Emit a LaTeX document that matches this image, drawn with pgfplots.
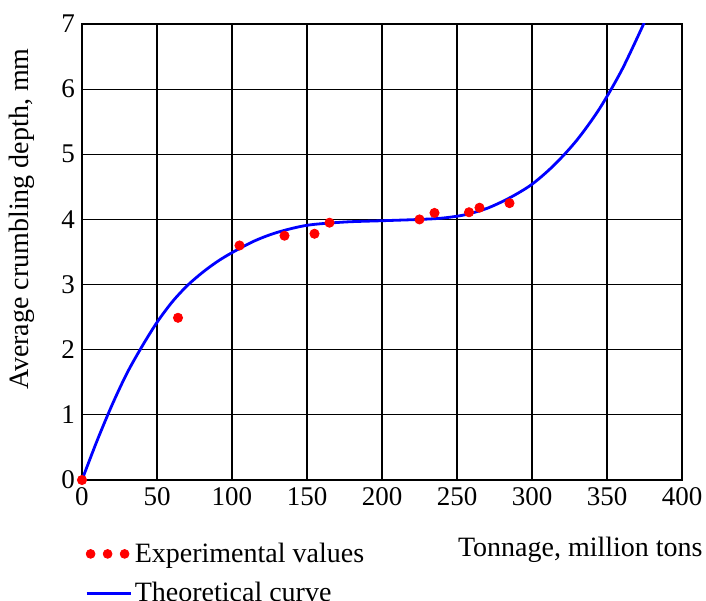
\documentclass[border=0pt]{standalone}
\usepackage{pgfplots}
\pgfplotsset{compat=1.18}
\usepackage{fontspec}
\setmainfont{Liberation Serif}

\begin{document}
\begin{tikzpicture}
\begin{axis}[
  at={(0pt,0pt)}, anchor=south west,
  scale only axis, width=300pt, height=228pt,
  xmin=0, xmax=400, ymin=0, ymax=7,
  xtick={0,50,...,400}, ytick={0,1,...,7},
  grid=major, grid style={black, line width=0.6pt},
  axis line style={black, line width=0.8pt},
  major tick length=0pt,
  font=\fontsize{14}{16}\selectfont,
  tick label style={font=\fontsize{13.5}{15}\selectfont},
  /pgf/number format/assume math mode=true,
  xlabel={Tonnage, million tons},
  xlabel style={at={(axis description cs:1.035,-0.153)}, anchor=east, inner sep=0pt},
  ylabel={Average crumbling depth, mm},
  ylabel style={at={(axis description cs:-0.1,0.572)}, anchor=center},
  legend style={at={(axis description cs:0.005,-0.13)}, anchor=north west,
    draw=none, fill=none, inner sep=0pt, row sep=5.5pt,
    nodes={inner sep=1.5pt, anchor=west, xshift=5pt}},
  legend cell align=left,
]
\addplot[only marks, mark=*, mark size=2.3pt, red,
  legend image code/.code={
    \fill[red] (0pt,0pt) circle (2.2pt);
    \fill[red] (8.5pt,0pt) circle (2.2pt);
    \fill[red] (17pt,0pt) circle (2.2pt);}]
coordinates {
  (0,0) (64,2.49) (105,3.6) (135,3.75) (155,3.78) (165,3.95)
  (225,4.0) (235,4.1) (258,4.11) (265,4.18) (285,4.25)
};
\addlegendentry{Experimental values}
\addplot[blue, line width=1.4pt, smooth,
  legend image code/.code={\draw[blue, line width=1.2pt] (-2pt,0pt) -- (20pt,0pt);}]
coordinates {
  (0,0) (10,0.6) (20,1.15) (30,1.64) (40,2.05) (50,2.42) (60,2.73)
  (70,2.98) (80,3.18) (90,3.35) (100,3.49) (115,3.67) (130,3.80)
  (150,3.91) (175,3.96) (200,3.98) (225,4.00) (240,4.02) (255,4.07)
  (270,4.17) (285,4.33) (300,4.54) (315,4.84) (330,5.22) (345,5.70)
  (360,6.30) (375,7.03)
};
\addlegendentry{Theoretical curve}
\end{axis}
\pgfresetboundingbox
\path (-41pt,-60pt) rectangle (312pt,240pt);
\end{tikzpicture}
\end{document}
